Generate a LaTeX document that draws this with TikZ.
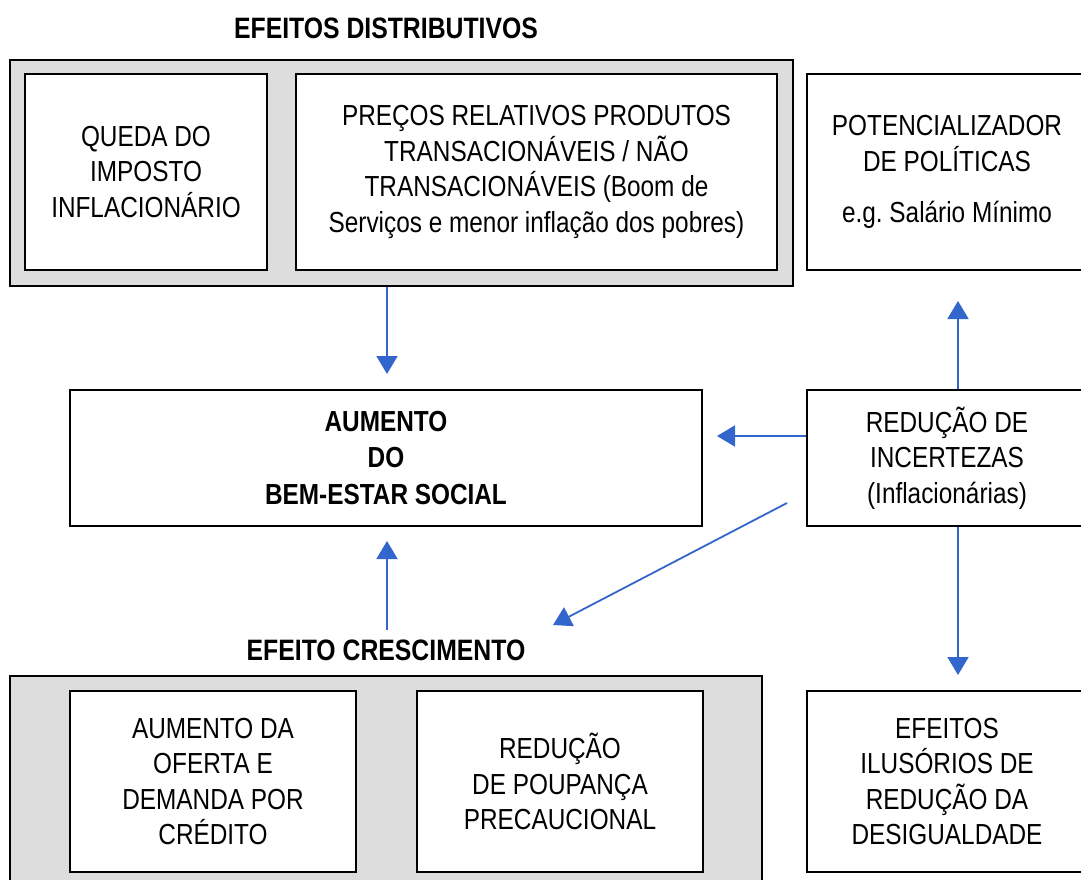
\documentclass[tikz,border=0pt]{standalone}
\usepackage{fontspec}
\setmainfont{Liberation Sans}[FakeStretch=0.84]
\usetikzlibrary{arrows.meta}
\frenchspacing
\definecolor{arrowblue}{HTML}{3366CC}
\definecolor{panelgray}{HTML}{DDDDDD}
\tikzset{
  box/.style={draw=black, line width=2pt, fill=white, inner sep=0pt, align=center,
    font=\fontsize{29}{35.5}\selectfont},
  panel/.style={draw=black, line width=2pt, fill=panelgray},
  heading/.style={inner sep=0pt, font=\fontsize{29.5}{35.5}\selectfont\bfseries},
  flow/.style={draw=arrowblue, line width=1.8pt, -{Triangle[length=18pt,width=21pt]}}
}
\begin{document}
\begin{tikzpicture}[x=1pt,y=-1pt]
\useasboundingbox (0,0) rectangle (1081,880);
\clip (0,0) rectangle (1081,880);
% headings
\node[heading] (hdist) at (386,28) {EFEITOS DISTRIBUTIVOS};
\node[heading] (hcres) at (386,650) {EFEITO CRESCIMENTO};
% top panel
\node[panel, minimum width=783, minimum height=226, inner sep=0pt] (dist) at (401.5,173) {};
\node[box, minimum width=242, minimum height=196] (queda) at (146,172) {QUEDA DO\\IMPOSTO\\INFLACIONÁRIO};
\node[box, minimum width=481, minimum height=196] (precos) at (536.5,172) {PREÇOS RELATIVOS PRODUTOS\\TRANSACIONÁVEIS / NÃO\\TRANSACIONÁVEIS (Boom de\\Serviços e menor inflação dos pobres)};
\node[box, minimum width=280, minimum height=196] (pot) at (947,172) {POTENCIALIZADOR\\DE POLÍTICAS\\[16pt]e.g. Salário Mínimo};
% middle
\node[box, minimum width=632, minimum height=136, font=\fontsize{29}{36.5}\selectfont\bfseries] (bem) at (386,458) {AUMENTO\\DO\\BEM-ESTAR SOCIAL};
\node[box, minimum width=280, minimum height=136] (red) at (947,458) {REDUÇÃO DE\\INCERTEZAS\\(Inflacionárias)};
% bottom panel
\node[panel, minimum width=752, minimum height=220, inner sep=0pt] (cres) at (386,786) {};
\node[box, minimum width=286, minimum height=181] (oferta) at (213,781.5) {AUMENTO DA\\OFERTA E\\DEMANDA POR\\CRÉDITO};
\node[box, minimum width=286, minimum height=181] (poup) at (560,781.5) {REDUÇÃO\\DE POUPANÇA\\PRECAUCIONAL};
\node[box, minimum width=280, minimum height=181] (ilus) at (947,781.5) {EFEITOS\\ILUSÓRIOS DE\\REDUÇÃO DA\\DESIGUALDADE};
% arrow end points
\coordinate (a1) at (387,374);
\coordinate (a2) at (958,301);
\coordinate (a3) at (717,436);
\coordinate (a4s) at (787,503);
\coordinate (a4) at (553,625);
\coordinate (a5) at (958,675);
\coordinate (a6s) at (387,630);
\coordinate (a6) at (387,541);
% arrows
\draw[flow] (dist.south -| a1) -- (a1);
\draw[flow] (red.north -| a2) -- (a2);
\draw[flow] (red.west |- a3) -- (a3);
\draw[flow] (a4s) -- (a4);
\draw[flow] (red.south -| a5) -- (a5);
\draw[flow] (a6s) -- (a6);
\end{tikzpicture}
\end{document}
